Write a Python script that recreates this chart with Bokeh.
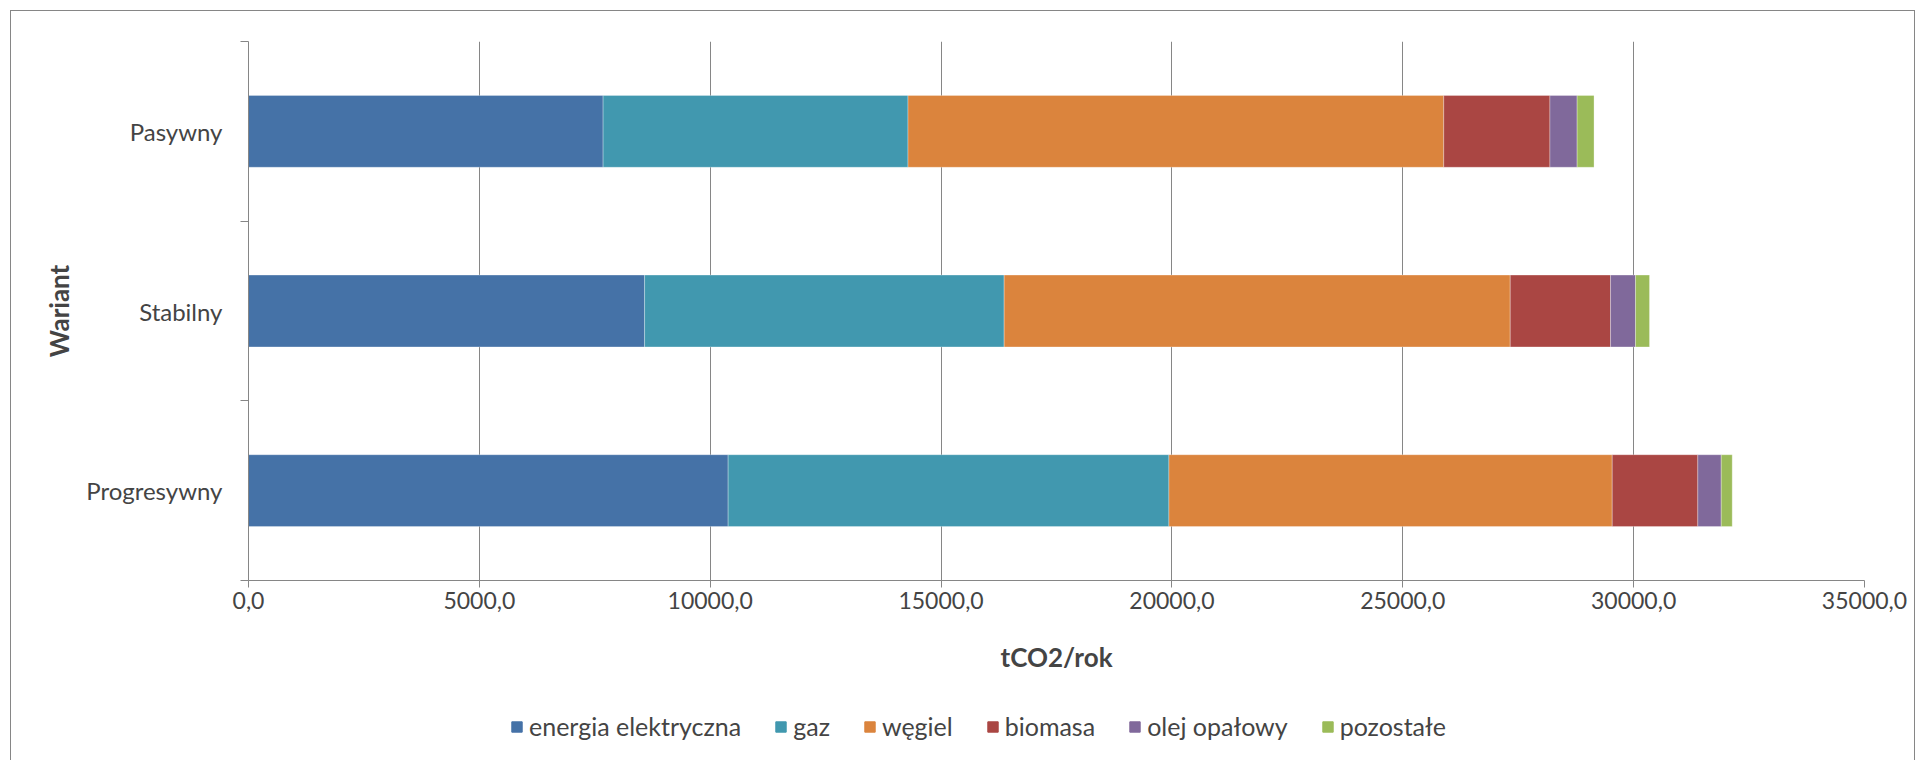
from bokeh.plotting import figure
from bokeh.layouts import column
from bokeh.models import ColumnDataSource, FixedTicker, Range1d, Legend, LegendItem
from bokeh.embed import file_html
from bokeh.resources import INLINE

# ---- data ----
categories = ["Progresywny", "Stabilny", "Pasywny"]
series_names = ["energia elektryczna", "gaz", "węgiel", "biomasa", "olej opałowy", "pozostałe"]
energia = [10388, 8579, 7680]
gaz = [9547, 7787, 6604]
wegiel = [9601, 10961, 11603]
biomasa = [1854, 2173, 2300]
olej = [507, 541, 589]
pozostale = [238, 303, 366]
colors = ["#4572A7", "#4198AF", "#DB843D", "#AA4643", "#80699B", "#9BBB59"]
x_ticks = [0, 5000, 10000, 15000, 20000, 25000, 30000, 35000]
x_tick_labels = ["0,0", "5000,0", "10000,0", "15000,0", "20000,0", "25000,0", "30000,0", "35000,0"]
x_title = "tCO2/rok"
y_title = "Wariant"

FONT = "Lato"
GRAY = "#868686"

keys = ["s0", "s1", "s2", "s3", "s4", "s5"]
ypos = [i + 0.5 for i in range(len(categories))]
source = ColumnDataSource(dict(y=ypos, s0=energia, s1=gaz, s2=wegiel, s3=biomasa, s4=olej, s5=pozostale))

p = figure(
    frame_width=1616, frame_height=539,
    min_border_left=237, min_border_top=30, min_border_right=50, min_border_bottom=100,
    x_range=Range1d(x_ticks[0], x_ticks[-1]), y_range=Range1d(0, len(categories)),
    output_backend="svg", toolbar_location=None,
)
p.outline_line_color = None
p.background_fill_color = "white"
p.border_fill_color = "white"

p.hbar_stack(keys, y="y", height=0.4, color=colors, source=source,
             line_color="white", line_width=0.6, line_alpha=0.5)

# x axis
xt = FixedTicker(ticks=x_ticks)
p.xaxis.ticker = xt
p.xaxis.major_label_overrides = {t: l for t, l in zip(x_ticks, x_tick_labels)}
p.xaxis.axis_label = x_title
p.xaxis.axis_label_text_font = FONT
p.xaxis.axis_label_text_font_style = "bold"
p.xaxis.axis_label_text_font_size = "26px"
p.xaxis.axis_label_standoff = 29
p.xaxis.major_label_text_font = FONT
p.xaxis.major_label_text_font_size = "23px"
p.xaxis.major_label_standoff = 4
p.xaxis.major_tick_out = 7
p.xaxis.major_tick_in = 0
p.xaxis.minor_tick_out = 0
p.xaxis.minor_tick_in = 0
p.xaxis.axis_line_color = GRAY
p.xaxis.major_tick_line_color = GRAY

# y axis
yt = FixedTicker(ticks=ypos, minor_ticks=list(range(len(categories) + 1)))
p.yaxis.ticker = yt
p.yaxis.major_label_overrides = {y: c for y, c in zip(ypos, categories)}
p.yaxis.axis_label = y_title
p.yaxis.axis_label_text_font = FONT
p.yaxis.axis_label_text_font_style = "bold"
p.yaxis.axis_label_text_font_size = "26px"
p.yaxis.axis_label_standoff = 8
p.yaxis.major_label_text_font = FONT
p.yaxis.major_label_text_font_size = "24px"
p.yaxis.major_label_standoff = 18
p.yaxis.major_tick_out = 0
p.yaxis.major_tick_in = 0
p.yaxis.minor_tick_out = 8
p.yaxis.minor_tick_in = 0
p.yaxis.minor_tick_line_color = GRAY
p.yaxis.axis_line_color = GRAY

p.xgrid.ticker = xt
p.xgrid.grid_line_color = GRAY
p.ygrid.visible = False

# ---- legend strip (separate figure under the chart) ----
# the strip's ranges lie far away from the data, so its bars are never visible;
# they only serve as legend swatches
p2 = figure(width=1903, height=80, min_border=0,
            x_range=Range1d(1e6, 2e6), y_range=Range1d(1000, 1001),
            output_backend="svg", toolbar_location=None)
p2.axis.visible = False
p2.grid.visible = False
p2.outline_line_color = None
p2.border_fill_color = "white"
p2.background_fill_color = "white"
legend_renderers = p2.hbar_stack(keys, y="y", height=0.4, color=colors, source=source)
lg = Legend(items=[LegendItem(label=n, renderers=[r]) for n, r in zip(series_names, legend_renderers)])
lg.orientation = "horizontal"
lg.location = (262, 19)
lg.padding = 0
lg.margin = 0
lg.spacing = 33
lg.label_standoff = 6
lg.glyph_width = 13
lg.glyph_height = 13
lg.border_line_alpha = 0
lg.background_fill_alpha = 0
lg.label_text_font = FONT
lg.label_text_font_size = "25px"
p2.add_layout(lg, "center")

layout = column(p, p2, spacing=0)
layout.styles = {"margin-left": "10px", "margin-top": "10px",
                 "border-left": "1px solid #868686", "border-top": "1px solid #868686",
                 "border-right": "1px solid #868686"}

open("out.html", "w").write(file_html(layout, INLINE))
